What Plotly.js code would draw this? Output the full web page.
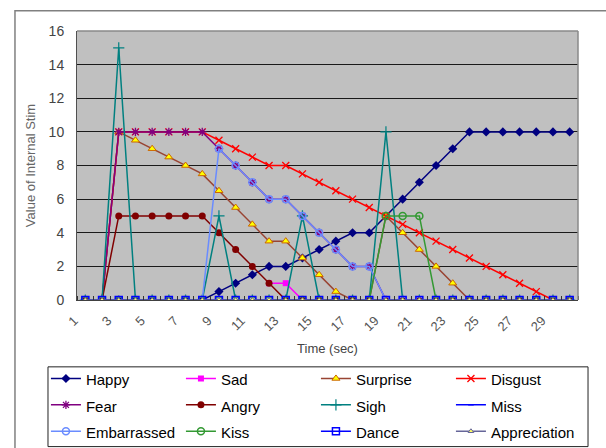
<!DOCTYPE html>
<html>
<head>
<meta charset="utf-8">
<script src="https://cdn.plot.ly/plotly-3.0.1.min.js"></script>
<style>html,body{margin:0;padding:0;background:#fff;}#chart{width:606px;height:448px;}</style>
</head>
<body>
<div id="chart"></div>
<script>
// ---- data ----
var timeSec = [1,2,3,4,5,6,7,8,9,10,11,12,13,14,15,16,17,18,19,20,21,22,23,24,25,26,27,28,29,30];
var tickLabels = ["1","3","5","7","9","11","13","15","17","19","21","23","25","27","29"];
var tickPositions = [1,3,5,7,9,11,13,15,17,19,21,23,25,27,29];

var seriesNames = ["Happy","Sad","Surprise","Disgust","Fear","Angry","Sigh","Miss","Embarrassed","Kiss","Dance","Appreciation"];

var happy = [0,0,0,0,0,0,0,0,0.5,1,1.5,2,2,2.5,3,3.5,4,4,5,6,7,8,9,10,10,10,10,10,10,10];
var sad = [null,null,null,null,null,null,null,null,null,null,null,1,1,0,0,0,0,0,0,0,0,0,0,0,0,0,0,0,0,0];
var surprise = [0,0,10,9.5,9,8.5,8,7.5,6.5,5.5,4.5,3.5,3.5,2.5,1.5,0.5,0,0,5,4,3,2,1,0,0,0,0,0,0,0];
var disgust = [0,0,10,10,10,10,10,10,9.5,9,8.5,8,8,7.5,7,6.5,6,5.5,5,4.5,4,3.5,3,2.5,2,1.5,1,0.5,0,0];
var fear = [0,0,10,10,10,10,10,10,9,8,7,6,6,5,4,3,2,2,0,0,0,0,0,0,0,0,0,0,0,0];
var angry = [0,0,5,5,5,5,5,5,4,3,2,1,0,0,0,0,0,0,0,0,0,0,0,0,0,0,0,0,0,0];
var sigh = [0,0,15,0,0,0,0,0,5,0,0,0,0,5,0,0,0,0,10,0,0,0,0,0,0,0,0,0,0,0];
var miss = [0,0,0,0,0,0,0,0,0,0,0,0,0,0,0,0,0,0,0,0,0,0,0,0,0,0,0,0,0,0];
var embarrassed = [0,0,0,0,0,0,0,0,9,8,7,6,6,5,4,3,2,2,0,0,0,0,0,0,0,0,0,0,0,0];
var kiss = [0,0,0,0,0,0,0,0,0,0,0,0,0,0,0,0,0,0,5,5,5,0,0,0,0,0,0,0,0,0];
var dance = [0,0,0,0,0,0,0,0,0,0,0,0,0,0,0,0,0,0,0,0,0,0,0,0,0,0,0,0,0,0];
var appreciation = [0,0,0,0,0,0,0,0,0,0,0,0,0,0,0,0,0,0,0,0,0,0,0,0,0,0,0,0,0,0];

var seriesValues = [happy, sad, surprise, disgust, fear, angry, sigh, miss, embarrassed, kiss, dance, appreciation];

// ---- styles ----
var styles = [
  {line:'#000080', marker:{symbol:'diamond', size:7, color:'#000080'}},
  {line:'#FF00FF', marker:{symbol:'square', size:6, color:'#FF00FF'}},
  {line:'#994433', marker:{symbol:'triangle-up', size:7, color:'#FFFF00', line:{color:'#CC6600', width:1}}},
  {line:'#FF0000', marker:{symbol:'x-thin-open', size:7, color:'#FF0000', line:{color:'#FF0000', width:1.3}}},
  {line:'#800080', marker:{symbol:'asterisk-open', size:7, color:'#800080', line:{color:'#800080', width:1.3}}},
  {line:'#800000', marker:{symbol:'circle', size:7, color:'#800000'}},
  {line:'#008080', marker:{symbol:'cross-thin-open', size:8, color:'#008080', line:{color:'#008080', width:1.2}}},
  {line:'#0000FF', marker:{symbol:'line-ew-open', size:4, color:'#0000FF', line:{color:'#0000FF', width:1.5}}},
  {line:'#6A8CFF', marker:{symbol:'circle-open', size:7, color:'#6A8CFF', line:{color:'#6A8CFF', width:1.5}}},
  {line:'#339933', marker:{symbol:'circle-open', size:7, color:'#339933', line:{color:'#339933', width:1.5}}},
  {line:'#0000FF', marker:{symbol:'square-open', size:7, color:'#0000FF', line:{color:'#0000FF', width:1.5}}},
  {line:'#666699', marker:{symbol:'triangle-up', size:5, color:'#FFFF66', line:{color:'#666699', width:1}}}
];

var traces = seriesNames.map(function(name, i){
  return {
    type:'scatter', mode:'lines+markers',
    x: timeSec, y: seriesValues[i],
    name: '<span style="font-size:15px">' + name + '</span>',
    line:{color:styles[i].line, width:1.5},
    marker: styles[i].marker,
    connectgaps:false
  };
});

var layout = {
  width:606, height:448,
  margin:{l:77, r:28, t:31, b:148, autoexpand:false},
  paper_bgcolor:'#FFFFFF',
  plot_bgcolor:'#C0C0C0',
  font:{family:'Liberation Sans, Arial, sans-serif', color:'#000'},
  showlegend:true,
  legend:{
    orientation:'h', x:-0.062, xanchor:'left', y:-0.224, yanchor:'top',
    entrywidth:90, borderwidth:0, bgcolor:'rgba(0,0,0,0)',
    font:{size:18, color:'#000', family:'Liberation Sans, Arial, sans-serif'},
    traceorder:'normal'
  },
  xaxis:{
    range:[0.5,30.5], tickmode:'array', tickvals:tickPositions, ticktext:tickLabels,
    tickangle:-45, ticks:'', showgrid:false, zeroline:false,
    showline:true, linecolor:'#404040', linewidth:1,
    tickfont:{size:13, color:'#555'},
    ticklabelstandoff:7, ticklabelshift:-11,
    minor:{tickmode:'linear', tick0:0.5, dtick:1, ticks:'inside', ticklen:4, tickcolor:'#333', tickwidth:1, showgrid:false},
    title:{text:'Time (sec)', font:{size:13, color:'#444'}, standoff:10}
  },
  yaxis:{
    range:[0,16], dtick:2, tick0:0, showgrid:true, gridcolor:'#1a1a1a', gridwidth:1,
    zeroline:false, showline:true, linecolor:'#505050', linewidth:1,
    ticks:'', tickfont:{size:14, color:'#444'}, ticklabelstandoff:9,
    title:{text:'Value of Internal Stim', font:{size:13, color:'#666'}, standoff:10}
  },
  shapes:[
    {type:'line', xref:'paper', yref:'paper', x0:0, x1:1, y0:1, y1:1, line:{color:'#8a8a8a', width:1.5}},
    {type:'line', xref:'paper', yref:'paper', x0:1, x1:1, y0:0, y1:1, line:{color:'#8a8a8a', width:1.5}},
    {type:'rect', xref:'paper', yref:'paper', x0:-0.0579, x1:1.0200, y0:-0.545, y1:-0.2485, line:{color:'#222', width:1}},
    {type:'rect', xref:'paper', yref:'paper', x0:-0.1238, x1:1.07, y0:-0.57, y1:1.0757, line:{color:'#808080', width:1.5}}
  ]
};

Plotly.newPlot('chart', traces, layout, {displayModeBar:false, staticPlot:true});
</script>
</body>
</html>
